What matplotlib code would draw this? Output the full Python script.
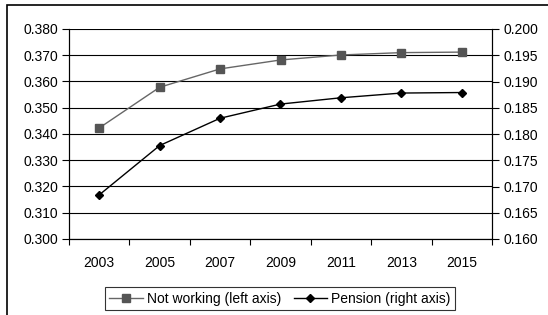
import numpy as np
import matplotlib.pyplot as plt
from matplotlib.patches import Rectangle

plt.rcParams['font.family'] = ['Liberation Sans', 'DejaVu Sans']
plt.rcParams['font.size'] = 10

years = ['2003', '2005', '2007', '2009', '2011', '2013', '2015']
not_working = [0.3423, 0.3578, 0.3648, 0.3682, 0.3701, 0.3710, 0.3712]
pension = [0.1684, 0.1778, 0.1830, 0.1857, 0.1869, 0.1878, 0.1879]

x = np.arange(len(years))

fig = plt.figure(figsize=(5.48, 3.15), dpi=100)
ax = fig.add_axes([69/548, 76/315, 423/548, 210/315])
ax2 = ax.twinx()

l1, = ax.plot(x, not_working, color='#666666', lw=1, marker='s', ms=5.5,
              mfc='#555555', mec='#555555', label='Not working (left axis)')
l2, = ax2.plot(x, pension, color='black', lw=1, marker='D', ms=4,
               mfc='black', mec='black', label='Pension (right axis)')

ax.set_xlim(-0.5, len(years) - 0.5)
ax.set_ylim(0.300, 0.380)
ax2.set_ylim(0.160, 0.200)
ax.set_yticks(np.arange(0.300, 0.3801, 0.010))
ax.set_yticklabels(['%.3f' % v for v in np.arange(0.300, 0.3801, 0.010)])
ax2.set_yticks(np.arange(0.160, 0.2001, 0.005))
ax2.set_yticklabels(['%.3f' % v for v in np.arange(0.160, 0.2001, 0.005)])
ax.set_xticks(x)
ax.set_xticklabels(years)
ax.set_xticks(np.arange(-0.5, len(years)), minor=True)
ax.tick_params(axis='x', which='major', length=0, pad=12)
ax.tick_params(axis='x', which='minor', length=4, direction='out', width=0.8)
ax.tick_params(axis='y', length=5, width=0.8, pad=3)
ax2.tick_params(axis='y', length=5, width=0.8, pad=3)
ax.grid(axis='y', color='black', lw=0.8)
ax.set_axisbelow(True)
for a in (ax, ax2):
    for s in a.spines.values():
        s.set_linewidth(0.8)
        s.set_color('black')
ax.spines['top'].set_visible(False)
ax2.spines['top'].set_visible(False)

leg = fig.legend(handles=[l1, l2], loc='center', ncol=2,
                 bbox_to_anchor=(280/548, 1 - 298.5/315), frameon=True,
                 fancybox=False, edgecolor='black', handlelength=2.4,
                 handletextpad=0.3, columnspacing=0.9, borderpad=0.35)
leg.get_frame().set_linewidth(0.8)

fig.patches.append(Rectangle((7/548, -0.02), 1.05, 1 - 5/315 + 0.02,
                             transform=fig.transFigure, fill=False,
                             edgecolor='black', lw=1.2))

fig.savefig('out.png', dpi=100)
